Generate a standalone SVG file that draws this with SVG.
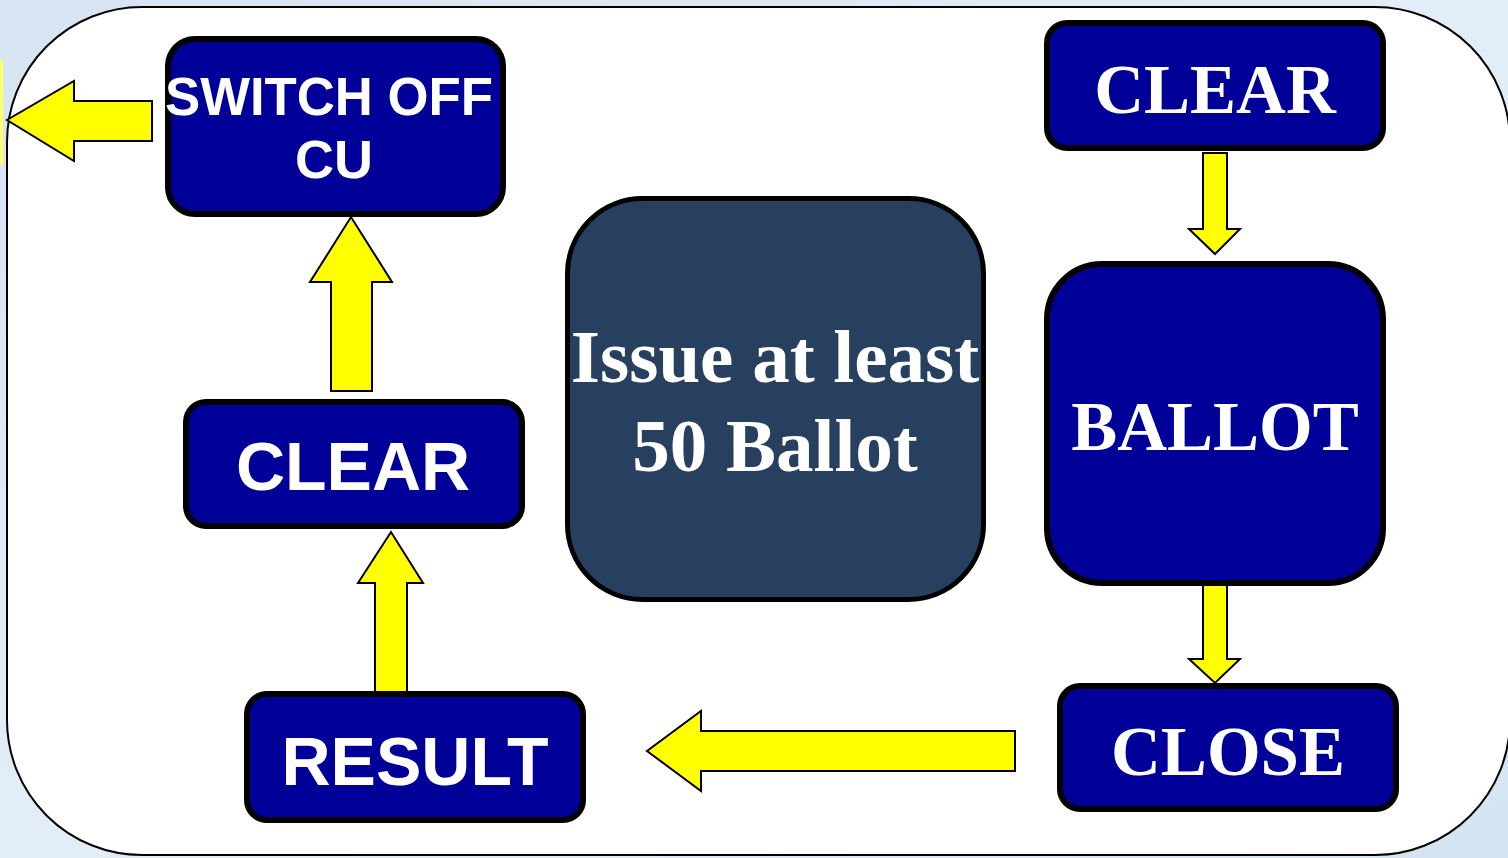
<svg xmlns="http://www.w3.org/2000/svg" width="1508" height="858" viewBox="0 0 1508 858">
<defs>
<linearGradient id="bg" x1="0" y1="0" x2="1" y2="1">
<stop offset="0" stop-color="#d6e4f1"/>
<stop offset="0.5" stop-color="#e3edf7"/>
<stop offset="1" stop-color="#d4e3f2"/>
</linearGradient>
</defs>
<style>
.node{fill:#000099;stroke:#000;stroke-width:6}
.issue{fill:#284060;stroke:#000;stroke-width:5}
.arrow{fill:#ffff00;stroke:#000;stroke-width:2;stroke-linejoin:miter}
.sans{font-family:"Liberation Sans",Arial,sans-serif;font-weight:bold;fill:#fff;text-anchor:middle}
.serif{font-family:"Liberation Serif","Times New Roman",serif;font-weight:bold;fill:#fff;text-anchor:middle}
</style>
<rect x="0" y="0" width="1508" height="858" fill="url(#bg)"/>
<rect x="0" y="60" width="3" height="105" fill="#ffff66"/>
<rect x="7" y="7" width="1503" height="848" rx="135" ry="135" fill="#fff" stroke="#000" stroke-width="2"/>
<g id="connectors">
<polygon class="arrow" points="152,101 74,101 74,81 7,120 74,161 74,141 152,141"/>
<polygon class="arrow" points="331,391 331,282 310,282 351,217 392,282 372,282 372,391"/>
<polygon class="arrow" points="375,692 375,583 358,583 391,532 423,583 407,583 407,692"/>
<polygon class="arrow" points="1015,731 701,731 701,711 647,751 701,791 701,771 1015,771"/>
<polygon class="arrow" points="1203,153 1227,153 1227,229 1240,229 1215,254 1189,229 1203,229"/>
<polygon class="arrow" points="1203,584 1227,584 1227,659 1240,659 1215,683 1189,659 1203,659"/>
</g>
<g id="switch-off-cu">
<rect class="node" x="168" y="39" width="335" height="175" rx="27"/>
<text class="sans" x="329" y="115" font-size="54" textLength="328" lengthAdjust="spacingAndGlyphs">SWITCH OFF</text>
<text class="sans" x="334" y="178" font-size="54">CU</text>
</g>
<g id="clear-left">
<rect class="node" x="186" y="402" width="336" height="124" rx="20"/>
<text class="sans" x="353" y="490" font-size="68">CLEAR</text>
</g>
<g id="result">
<rect class="node" x="247" y="694" width="336" height="126" rx="20"/>
<text class="sans" x="415" y="785" font-size="68">RESULT</text>
</g>
<g id="issue">
<rect class="issue" x="567.5" y="198.5" width="416" height="401" rx="75"/>
<text class="serif" x="775" y="382" font-size="75">Issue at least</text>
<text class="serif" x="775" y="471" font-size="75">50 Ballot</text>
</g>
<g id="clear-right">
<rect class="node" x="1047" y="23" width="336" height="125" rx="20"/>
<text class="serif" x="1215" y="113" font-size="69">CLEAR</text>
</g>
<g id="ballot">
<rect class="node" x="1047" y="264" width="336" height="319" rx="55"/>
<text class="serif" x="1215" y="450" font-size="69">BALLOT</text>
</g>
<g id="close">
<rect class="node" x="1060" y="686" width="336" height="123" rx="20"/>
<text class="serif" x="1228" y="775" font-size="69">CLOSE</text>
</g>
</svg>
